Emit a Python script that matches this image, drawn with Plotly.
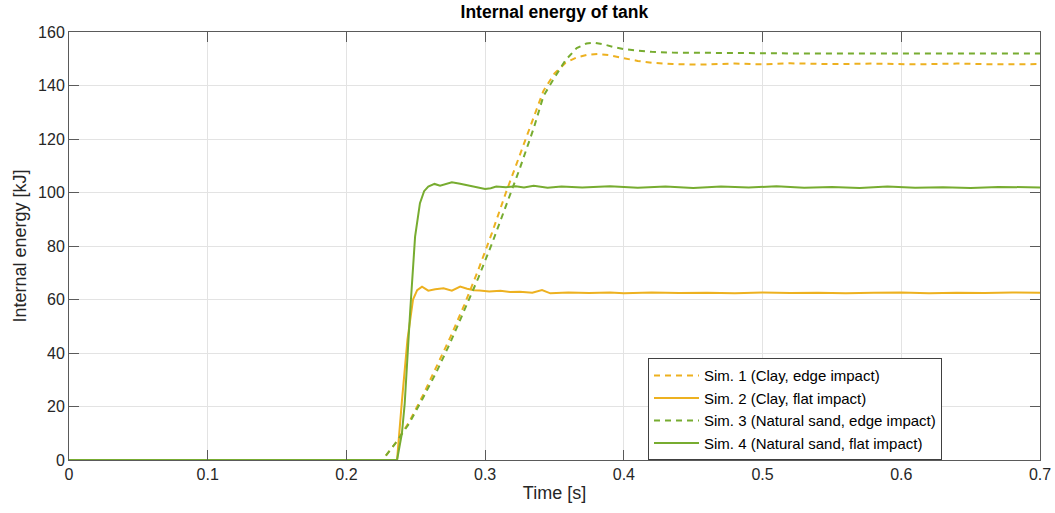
import plotly.graph_objects as go

# Sim. 1 – clay, edge impact
t_sim1 = [0, 0.226, 0.235, 0.245, 0.255, 0.265, 0.275, 0.285, 0.295, 0.305, 0.315,
          0.325, 0.335, 0.342, 0.350, 0.358, 0.366, 0.374, 0.381, 0.390, 0.400,
          0.410, 0.420, 0.435, 0.455, 0.48, 0.50, 0.52, 0.55, 0.58, 0.61, 0.64,
          0.67, 0.70]
e_sim1 = [0, 0, 6, 14, 24, 35, 46, 58, 71, 85, 100,
          114, 128, 138, 144.5, 148.5, 150.5, 151.5, 151.8, 151.3, 150.2,
          149.2, 148.5, 148.0, 147.8, 148.2, 147.9, 148.3, 148.0, 148.2, 147.9, 148.2,
          147.9, 148.0]

# Sim. 2 – clay, flat impact
t_sim2 = [0, 0.2365, 0.240, 0.244, 0.248, 0.251, 0.2545, 0.259, 0.264, 0.270, 0.276,
          0.282, 0.287, 0.292, 0.296, 0.303, 0.311, 0.318, 0.325, 0.334, 0.341,
          0.347, 0.36, 0.375, 0.39, 0.40, 0.42, 0.44, 0.46, 0.48, 0.50, 0.52,
          0.54, 0.56, 0.58, 0.60, 0.62, 0.64, 0.66, 0.68, 0.70]
e_sim2 = [0, 0, 22, 45, 60, 63.5, 64.8, 63.3, 63.8, 64.2, 63.3,
          64.8, 64.0, 63.5, 63.4, 63.0, 63.3, 62.8, 62.9, 62.5, 63.5,
          62.3, 62.6, 62.4, 62.6, 62.3, 62.6, 62.4, 62.5, 62.3, 62.6, 62.4,
          62.5, 62.3, 62.5, 62.6, 62.3, 62.5, 62.4, 62.6, 62.5]

# Sim. 3 – natural sand, edge impact
t_sim3 = [0, 0.226, 0.235, 0.245, 0.255, 0.265, 0.275, 0.285, 0.295, 0.305, 0.315,
          0.325, 0.335, 0.342, 0.350, 0.358, 0.366, 0.373, 0.379, 0.386, 0.393,
          0.400, 0.410, 0.420, 0.435, 0.455, 0.48, 0.52, 0.56, 0.60, 0.65, 0.70]
e_sim3 = [0, 0, 6, 13.5, 23, 33, 44, 56, 68, 81, 95,
          109, 124, 136, 143, 149.5, 154, 155.7, 156, 155.3, 154.3,
          153.6, 153.0, 152.6, 152.3, 152.2, 152.1, 152.0, 152.0, 152.0, 152.0, 152.0]

# Sim. 4 – natural sand, flat impact
t_sim4 = [0, 0.2365, 0.240, 0.242, 0.246, 0.2495, 0.253, 0.256, 0.259, 0.2635, 0.2675,
          0.272, 0.276, 0.282, 0.289, 0.295, 0.300, 0.304, 0.308, 0.315, 0.322,
          0.328, 0.335, 0.345, 0.355, 0.37, 0.39, 0.41, 0.43, 0.45, 0.47, 0.49,
          0.51, 0.53, 0.55, 0.57, 0.59, 0.61, 0.63, 0.65, 0.67, 0.70]
e_sim4 = [0, 0, 10, 21, 56, 83.5, 96, 100.5, 102.2, 103.2, 102.5,
          103.2, 103.8, 103.3, 102.5, 101.8, 101.3, 101.6, 102.2, 102.0, 102.3,
          101.9, 102.5, 101.8, 102.2, 101.9, 102.3, 101.8, 102.2, 101.7, 102.2, 101.9,
          102.3, 101.8, 102.1, 101.7, 102.2, 101.8, 102.0, 101.7, 102.1, 101.9]

series_names = ["Sim. 1 (Clay, edge impact)", "Sim. 2 (Clay, flat impact)",
                "Sim. 3 (Natural sand, edge impact)", "Sim. 4 (Natural sand, flat impact)"]

x_ticks = [0, 0.1, 0.2, 0.3, 0.4, 0.5, 0.6, 0.7]
x_tick_labels = ["0", "0.1", "0.2", "0.3", "0.4", "0.5", "0.6", "0.7"]
y_ticks = [0, 20, 40, 60, 80, 100, 120, 140, 160]

ORANGE = "#EDB120"
GREEN = "#77AC30"
DASH = "6px,5px"
FONT = "Liberation Sans, Arial, Helvetica, sans-serif"
AXIS_COL = "#262626"

fig = go.Figure()
styles = [
    (t_sim1, e_sim1, ORANGE, DASH),
    (t_sim2, e_sim2, ORANGE, "solid"),
    (t_sim3, e_sim3, GREEN, DASH),
    (t_sim4, e_sim4, GREEN, "solid"),
]
for name, (t, e, col, dash) in zip(series_names, styles):
    fig.add_trace(go.Scatter(x=t, y=e, mode="lines", name=name,
                             line=dict(color=col, width=2, dash=dash)))

axis_common = dict(
    showline=True, linecolor="#5a5a5a", linewidth=1, mirror="ticks",
    ticks="inside", ticklen=10, tickcolor="#5a5a5a", tickwidth=1,
    showgrid=True, gridcolor="#e3e3e3", gridwidth=1, zeroline=False,
    automargin=False,
    tickfont=dict(family=FONT, size=16, color=AXIS_COL),
)

fig.update_layout(
    width=1055, height=513,
    margin=dict(l=69, r=15, t=32, b=53),
    paper_bgcolor="white", plot_bgcolor="white",
    title=dict(text="<b>Internal energy of tank</b>", x=0.5255, xanchor="center",
               y=0.988, yanchor="top",
               font=dict(family=FONT, size=17.5, color="#000000")),
    xaxis=dict(range=[0, 0.7], tickvals=x_ticks, ticktext=x_tick_labels,
               title=dict(text="Time [s]", standoff=4,
                          font=dict(family=FONT, size=18, color=AXIS_COL)),
               **axis_common),
    yaxis=dict(range=[0, 160], tickvals=y_ticks,
               title=dict(text="Internal energy [kJ]", standoff=6,
                          font=dict(family=FONT, size=18, color=AXIS_COL)),
               **axis_common),
    legend=dict(x=0.5963, y=0.238, xanchor="left", yanchor="top",
                bgcolor="white", bordercolor="#404040", borderwidth=1,
                font=dict(family=FONT, size=15, color="#000000"),
                tracegroupgap=0, itemwidth=45),
    showlegend=True,
)

fig.write_html("out.html")
